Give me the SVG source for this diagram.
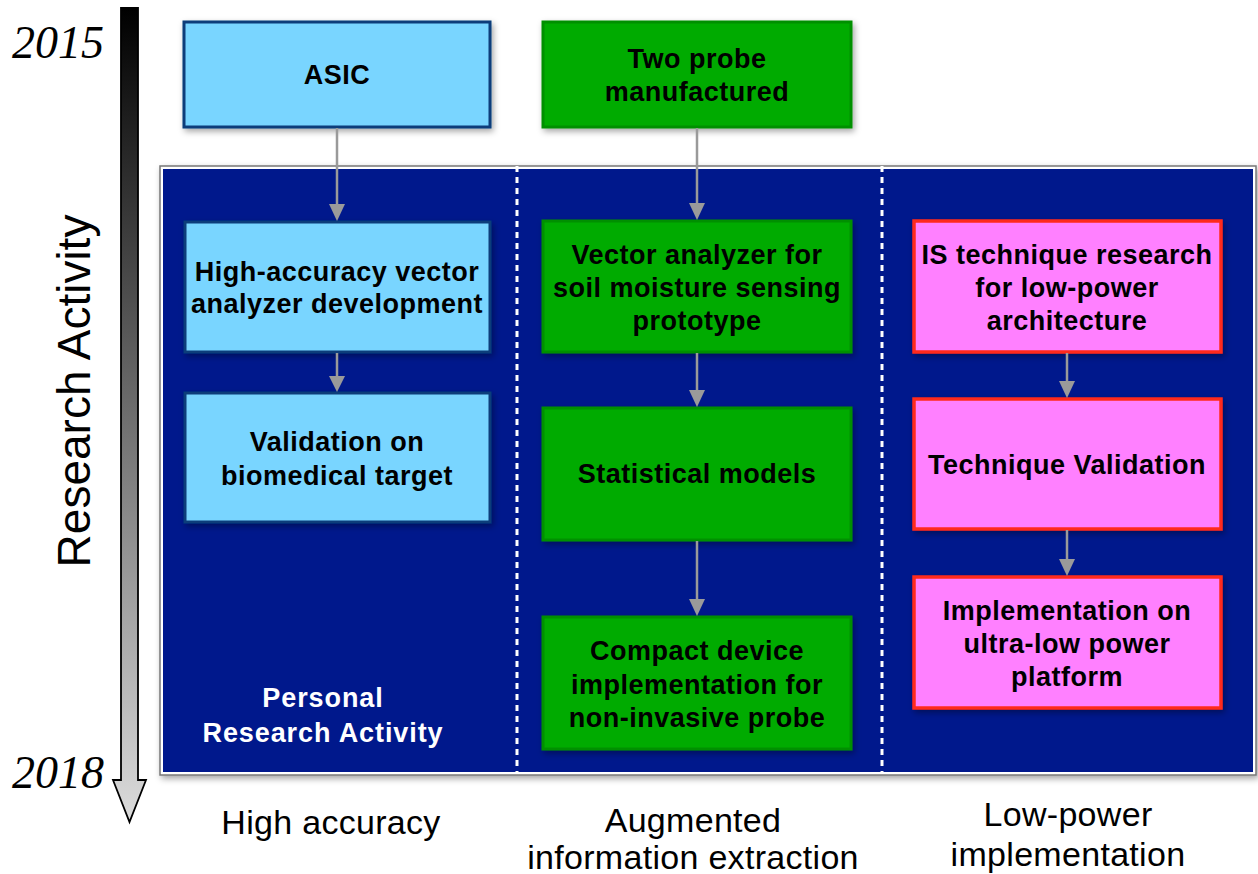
<svg xmlns="http://www.w3.org/2000/svg" width="1258" height="874" viewBox="0 0 1258 874">
<style>
.t{font-family:"Liberation Sans",Arial,sans-serif;font-weight:bold;font-size:27px;letter-spacing:0.5px;fill:#000;text-anchor:middle}
.w{font-family:"Liberation Sans",Arial,sans-serif;font-weight:bold;font-size:27px;letter-spacing:0.9px;fill:#fff;text-anchor:middle}
.lab{font-family:"Liberation Sans",Arial,sans-serif;font-size:34px;letter-spacing:0.3px;fill:#000;text-anchor:middle}
.yr{font-family:"Liberation Serif","Times New Roman",serif;font-style:italic;font-size:46px;fill:#000}
.blue{fill:#79d5ff;stroke:#0d3c7a;stroke-width:3}
.green{fill:#00ab00;stroke:#009000;stroke-width:3}
.pink{fill:#ff80ff;stroke:#ff2a1a;stroke-width:3.5}
.ah{fill:#9a9a9a;stroke:none}
</style>
<defs>
<linearGradient id="tg" x1="0" y1="0" x2="0" y2="1">
<stop offset="0" stop-color="#000"/>
<stop offset="1" stop-color="#dcdcdc"/>
</linearGradient>
<filter id="sh" x="-10%" y="-10%" width="130%" height="130%">
<feDropShadow dx="2" dy="3" stdDeviation="3" flood-color="#000" flood-opacity="0.35"/>
</filter>
</defs>

<g id="timeline">
<path d="M121,8 H138 V780 H146 L129.5,822 L113,780 H121 Z" fill="url(#tg)" stroke="#000" stroke-width="1.8"/>
<text class="yr" x="12" y="58">2015</text>
<text class="yr" x="12" y="788">2018</text>
<text transform="translate(90,391) rotate(-90)" font-family="'Liberation Sans',Arial,sans-serif" font-size="46" text-anchor="middle" fill="#000">Research Activity</text>
</g>

<g id="panel">
<rect x="160" y="166" width="1096" height="609" fill="#fff" stroke="#777" stroke-width="1.5" filter="url(#sh)"/>
<rect x="163" y="169" width="1090" height="603" fill="#00188c"/>
<line x1="517" y1="166" x2="517" y2="772" stroke="#fff" stroke-width="3" stroke-dasharray="6,5"/>
<line x1="882" y1="166" x2="882" y2="772" stroke="#fff" stroke-width="3" stroke-dasharray="6,5"/>
<text class="w" x="323" y="707">Personal</text>
<text class="w" x="323" y="742">Research Activity</text>
</g>

<g id="n-asic">
<rect class="blue" x="184" y="22" width="306" height="105" filter="url(#sh)"/>
<text class="t" x="337" y="84">ASIC</text>
</g>
<g id="n-probe">
<rect class="green" x="543" y="22" width="308" height="105" filter="url(#sh)"/>
<text class="t" x="697" y="68">Two probe</text>
<text class="t" x="697" y="101">manufactured</text>
</g>

<g id="n-hav">
<rect class="blue" x="185" y="222" width="305" height="130" filter="url(#sh)"/>
<text class="t" x="337" y="281">High-accuracy vector</text>
<text class="t" x="337" y="313">analyzer development</text>
</g>
<g id="n-val">
<rect class="blue" x="185" y="393" width="305" height="129" filter="url(#sh)"/>
<text class="t" x="337" y="451">Validation on</text>
<text class="t" x="337" y="485">biomedical target</text>
</g>

<g id="n-vec">
<rect class="green" x="543" y="221" width="308" height="131" filter="url(#sh)"/>
<text class="t" x="697" y="264">Vector analyzer for</text>
<text class="t" x="697" y="297">soil moisture sensing</text>
<text class="t" x="697" y="330">prototype</text>
</g>
<g id="n-stat">
<rect class="green" x="543" y="408" width="308" height="132" filter="url(#sh)"/>
<text class="t" x="697" y="483">Statistical models</text>
</g>
<g id="n-compact">
<rect class="green" x="543" y="617" width="308" height="132" filter="url(#sh)"/>
<text class="t" x="697" y="660">Compact device</text>
<text class="t" x="697" y="694">implementation for</text>
<text class="t" x="697" y="727">non-invasive probe</text>
</g>

<g id="n-is">
<rect class="pink" x="914" y="221" width="307" height="131" filter="url(#sh)"/>
<text class="t" x="1067" y="264">IS technique research</text>
<text class="t" x="1067" y="297">for low-power</text>
<text class="t" x="1067" y="330">architecture</text>
</g>
<g id="n-tech">
<rect class="pink" x="914" y="399" width="307" height="130" filter="url(#sh)"/>
<text class="t" x="1067" y="474">Technique Validation</text>
</g>
<g id="n-impl">
<rect class="pink" x="914" y="577" width="307" height="131" filter="url(#sh)"/>
<text class="t" x="1067" y="620">Implementation on</text>
<text class="t" x="1067" y="653">ultra-low power</text>
<text class="t" x="1067" y="686">platform</text>
</g>

<g id="connectors" stroke="#9a9a9a" stroke-width="2.5" fill="none">
<line x1="337" y1="128" x2="337" y2="206"/>
<path class="ah" d="M329,204 L345,204 L337,221 Z"/>
<line x1="337" y1="353" x2="337" y2="378"/>
<path class="ah" d="M329,376 L345,376 L337,392 Z"/>
<line x1="697" y1="128" x2="697" y2="205"/>
<path class="ah" d="M689,203 L705,203 L697,220 Z"/>
<line x1="697" y1="353" x2="697" y2="392"/>
<path class="ah" d="M689,390 L705,390 L697,407 Z"/>
<line x1="697" y1="541" x2="697" y2="601"/>
<path class="ah" d="M689,599 L705,599 L697,616 Z"/>
<line x1="1067" y1="353" x2="1067" y2="383"/>
<path class="ah" d="M1059,381 L1075,381 L1067,398 Z"/>
<line x1="1067" y1="530" x2="1067" y2="561"/>
<path class="ah" d="M1059,559 L1075,559 L1067,576 Z"/>
</g>

<g id="labels">
<text class="lab" x="331" y="834">High accuracy</text>
<text class="lab" x="693" y="832">Augmented</text>
<text class="lab" x="693" y="869">information extraction</text>
<text class="lab" x="1068" y="826">Low-power</text>
<text class="lab" x="1068" y="866">implementation</text>
</g>
</svg>
